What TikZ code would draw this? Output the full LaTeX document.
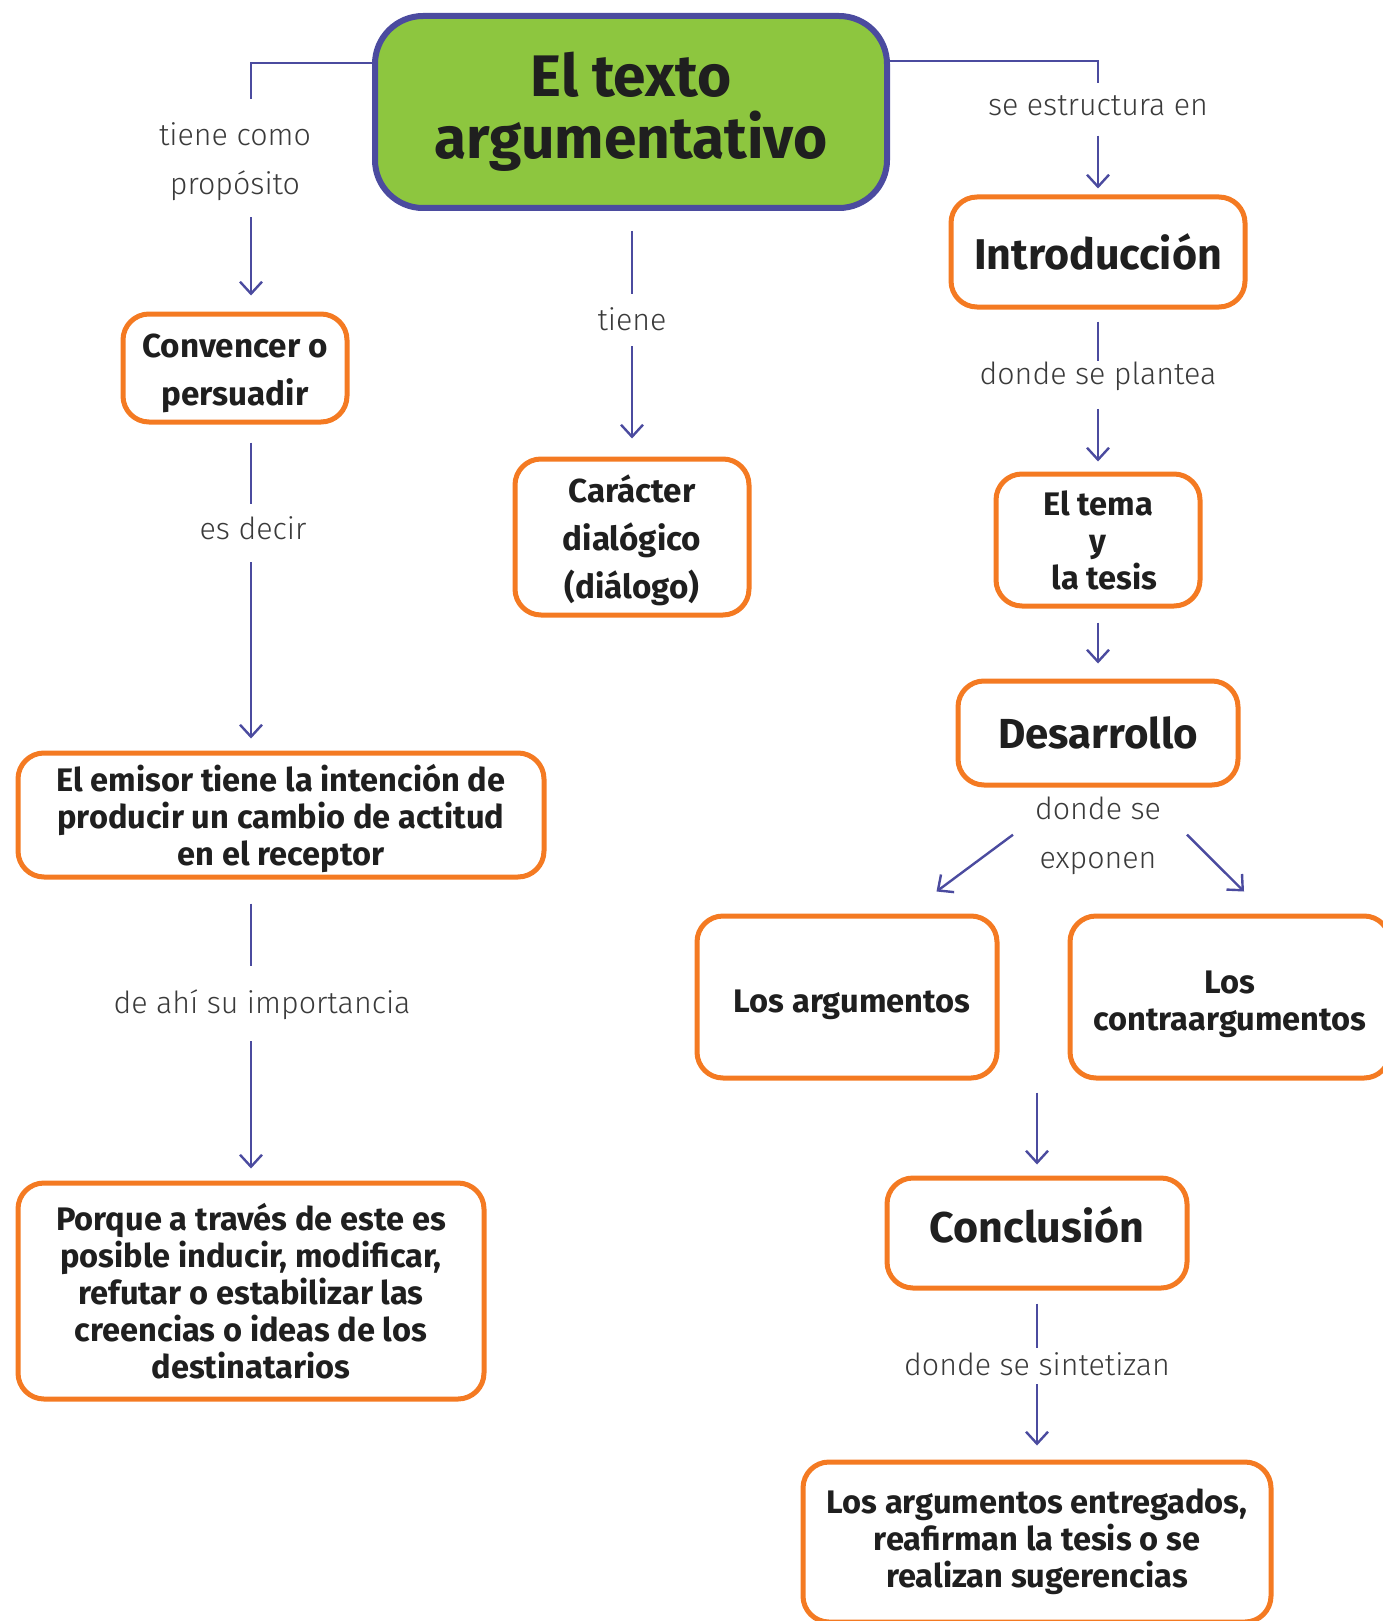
\documentclass[tikz,border=0pt]{standalone}
\usepackage{fontspec}
\setmainfont{Fira Sans}
\newfontfamily\lightfont{Fira Sans Light}
\usepackage{tikz}
\usepackage{xcolor}
\usetikzlibrary{arrows.meta}

\definecolor{boxorange}{HTML}{F47A22}
\definecolor{linkblue}{HTML}{4B4B9F}
\definecolor{titlegreen}{HTML}{8DC63F}
\definecolor{labelgray}{HTML}{3A3A3A}

\begin{document}
\begin{tikzpicture}[x=0.5pt, y=-0.5pt,
    box/.style={draw=boxorange, line width=2.5pt, rounded corners=13pt, fill=white,
      align=center, font=\bfseries\fontsize{16.3}{18.5}\selectfont, text=black!88, inner sep=0pt},
    bigbox/.style={box, font=\bfseries\fontsize{21.5}{26}\selectfont},
    lbl/.style={align=center, font=\lightfont\fontsize{15.2}{24.5}\selectfont, text=labelgray, inner sep=0pt},
    link/.style={draw=linkblue, line width=1.2pt},
    arr/.style={link, -{Straight Barb[length=6pt, width=11pt, line width=1.2pt]}}]
  \useasboundingbox (0,0) rectangle (1382,1621);

  % main title
  \node[draw=linkblue, line width=3pt, fill=titlegreen, rounded corners=24pt,
    minimum width=256pt, minimum height=96pt, align=center, text=black!88,
    font=\bfseries\fontsize{29.3}{31}\selectfont] (title) at (631,112) {El texto\\argumentativo};

  % left column
  \coordinate (lx) at (251,0);
  \node[lbl] (proposito) at (235,162) {tiene como\\propósito};
  \node[box, minimum width=112pt, minimum height=54pt, font=\bfseries\fontsize{16.6}{24}\selectfont] (conv) at (235,368) {\rule{0pt}{17pt}Convencer o\\persuadir};
  \node[lbl] (esdecir) at (253,528) {es decir};
  \node[box, minimum width=263pt, minimum height=62pt] (emisor) at (281,815)
    {\rule{0pt}{17pt}El emisor tiene la intención de\\producir un cambio de actitud\\en el receptor};
  \node[lbl] (importancia) at (262,1005) {de ahí su importancia};
  \node[box, minimum width=233pt, minimum height=108pt] (porque) at (251,1291)
    {Porque a través de este es\\posible inducir, modificar,\\refutar o estabilizar las\\creencias o ideas de los\\destinatarios};

  % center column
  \node[lbl] (tiene) at (632,319) {tiene};
  \node[box, minimum width=117pt, minimum height=78pt, font=\bfseries\fontsize{16.6}{24}\selectfont] (caracter) at (632,537)
    {\rule{0pt}{17pt}Carácter\\dialógico\\(diálogo)};

  % right column
  \coordinate (rx) at (1098,0);
  \node[lbl] (estructura) at (1098,106) {se estructura en};
  \node[bigbox, minimum width=147pt, minimum height=55pt] (intro) at (1098,252) {Introducción};
  \node[lbl] (plantea) at (1098,376) {donde se plantea};
  \node[box, minimum width=102pt, minimum height=66pt] (tema) at (1098,540) {El tema\\y\\\ \,la tesis};
  \node[bigbox, minimum width=140pt, minimum height=52pt, font=\bfseries\fontsize{21}{26}\selectfont] (desarrollo) at (1098,733) {Desarrollo};
  \node[lbl] (exponen) at (1098,836) {donde se\\exponen};
  \node[box, minimum width=150pt, minimum height=81pt] (args) at (847,997) {\rule{0pt}{19pt}\hspace*{5pt}Los argumentos};
  \node[box, minimum width=160pt, minimum height=81pt] (contra) at (1230,997) {\rule{0pt}{19pt}Los\\contraargumentos};
  \node[bigbox, minimum width=150pt, minimum height=55pt] (concl) at (1037,1233) {Conclusión\rule[-8pt]{0pt}{8pt}};
  \node[lbl] (sintetizan) at (1037,1364) {donde se sintetizan};
  \node[box, minimum width=234pt, minimum height=80pt] (final) at (1037,1542)
    {Los argumentos entregados,\\reafirman la tesis o se\\realizan sugerencias};

  % connectors, left
  \draw[link] (title.west |- 0,63) -| ([yshift=12pt]proposito.north -| lx);
  \draw[arr, shorten <=8pt, shorten >=8pt] (proposito.south -| lx) -- (conv.north -| lx);
  \draw[link, shorten <=9pt, shorten >=6pt] (conv.south -| lx) -- (esdecir.north -| lx);
  \draw[arr, shorten <=11pt, shorten >=6pt] (esdecir.south -| lx) -- (emisor.north -| lx);
  \draw[link, shorten <=12pt, shorten >=12pt] (emisor.south -| lx) -- (importancia.north -| lx);
  \draw[arr, shorten <=10.5pt, shorten >=6pt] (importancia.south -| lx) -- (porque.north -| lx);

  % connectors, center
  \draw[link, shorten <=10pt, shorten >=6.5pt] (title.south -| tiene) -- (tiene.north);
  \draw[arr, shorten <=7.5pt, shorten >=9pt] (tiene.south) -- (caracter.north);

  % connectors, right
  \draw[link] (title.east |- 0,61) -| ([yshift=6pt]estructura.north -| rx);
  \draw[arr, shorten <=9.5pt, shorten >=3pt] (estructura.south -| rx) -- (intro.north);
  \draw[link, shorten <=6pt, shorten >=0pt] (intro.south) -- (plantea.north -| rx);
  \draw[arr, shorten <=9pt, shorten >=5pt] (plantea.south -| rx) -- (tema.north);
  \draw[arr, shorten <=7pt, shorten >=7.5pt] (tema.south) -- (desarrollo.north);
  \draw[arr] ([xshift=-42.5pt,yshift=-19pt]exponen.north) -- ([xshift=-31.5pt,yshift=11pt]args.north east);
  \draw[arr] ([xshift=44.5pt,yshift=-19pt]exponen.north) -- ([xshift=7pt,yshift=11pt]contra.north);
  \draw[arr, shorten <=6pt, shorten >=5.5pt] (args.south east -| concl) -- (concl.north);
  \draw[link, shorten <=6.5pt, shorten >=2pt] (concl.south) -- (sintetizan.north);
  \draw[arr, shorten <=4pt, shorten >=7pt] (sintetizan.south) -- (final.north);
\end{tikzpicture}
\end{document}
